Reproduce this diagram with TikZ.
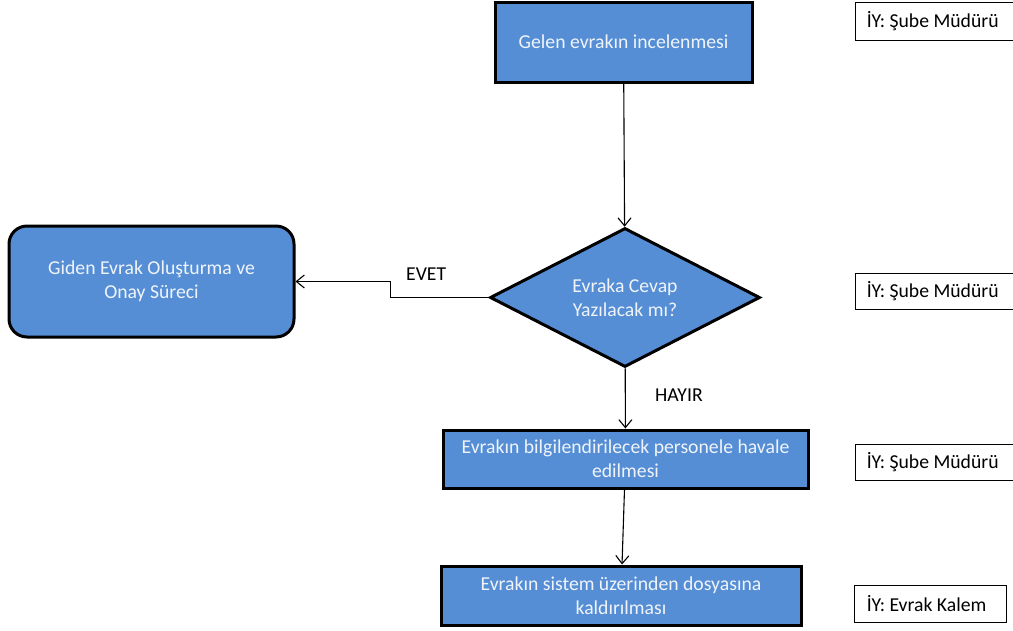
\documentclass[tikz,border=0pt]{standalone}
\usepackage{fontspec}
\setmainfont{Carlito}
\usetikzlibrary{shapes.geometric,arrows.meta}
\definecolor{boxblue}{RGB}{85,142,213}
\definecolor{boxtext}{RGB}{240,244,250}
\begin{document}
\begin{tikzpicture}[x=1pt,y=-1pt,
  every node/.style={font=\fontsize{19.7}{24}\selectfont},
  proc/.style={draw=black,line width=3pt,fill=boxblue,text=boxtext,align=center,inner sep=2pt},
  resp/.style={draw=black,line width=0.9pt,fill=white,inner sep=0pt},
  resptext/.style={anchor=west,inner sep=0pt},
  conn/.style={draw=black,line width=1.1pt,-{Straight Barb[length=8pt,width=13pt]}},
  lbl/.style={inner sep=0pt}]
\useasboundingbox (0,0) rectangle (1013,630);

\node[proc,minimum width=257pt,minimum height=80pt] (b1) at (623.5,42) {Gelen evrakın incelenmesi};
\node[proc,rounded corners=18pt,minimum width=285pt,minimum height=111pt] (g) at (151.5,281.5) {Giden Evrak Oluşturma ve\\Onay Süreci};
\node[proc,diamond,aspect=1.94,inner sep=0pt,minimum width=270pt,minimum height=139pt] (d) at (625,297.5) {Evraka Cevap\\Yazılacak mı?};
\node[proc,minimum width=365pt,minimum height=58pt] (b3) at (625.5,459) {Evrakın bilgilendirilecek personele havale\\edilmesi};
\node[proc,minimum width=360pt,minimum height=59pt] (b4) at (621,595.5) {Evrakın sistem üzerinden dosyasına\\kaldırılması};

\node[resp,minimum width=162pt,minimum height=38pt] (r1) at (936,21) {};
\node[resp,minimum width=162pt,minimum height=36pt] (r2) at (936,291) {};
\node[resp,minimum width=162pt,minimum height=36pt] (r3) at (936,462) {};
\node[resp,minimum width=152pt,minimum height=37pt] (r4) at (930,603.5) {};
\node[resptext] (t1) at ([xshift=12pt]r1.west) {İY: Şube Müdürü};
\node[resptext] (t2) at ([xshift=12pt]r2.west) {İY: Şube Müdürü};
\node[resptext] (t3) at ([xshift=12pt]r3.west) {İY: Şube Müdürü};
\node[resptext] (t4) at ([xshift=13pt]r4.west) {İY: Evrak Kalem};

\draw[conn] (b1) -- (d);
\draw[conn] (d.west) -- ++(-98,0) |- (g.east);
\draw[conn] (d) -- (b3);
\draw[conn] (b3) -- (b4);

\node[lbl,anchor=west] (evet) at (406,274) {EVET};
\node[lbl,anchor=west] (hayir) at (655,395) {HAYIR};
\end{tikzpicture}
\end{document}
